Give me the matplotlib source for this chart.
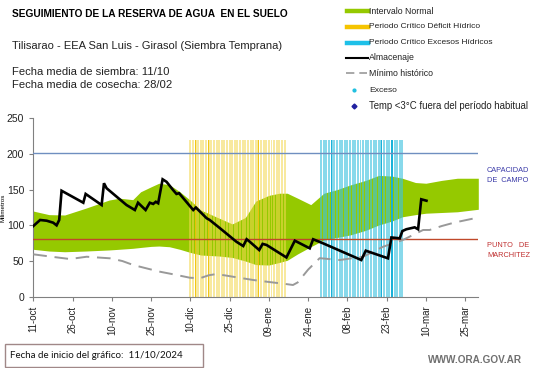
import matplotlib
matplotlib.use("Agg")
import matplotlib.pyplot as plt
import numpy as np
from matplotlib.lines import Line2D
from matplotlib.patches import Rectangle

# ---------------- data (day offsets from 11/10/2024) ----------------
tick_days = [0, 15, 30, 45, 60, 75, 90, 105, 120, 135, 150, 165]
tick_labels = ["11-oct", "26-oct", "10-nov", "25-nov", "10-dic", "25-dic",
               "09-ene", "24-ene", "08-feb", "23-feb", "10-mar", "25-mar"]

band_days = [0, 6, 12, 20, 29, 33, 38, 41, 45, 48, 52, 56, 60, 64, 71, 76, 81, 85, 90, 94,
             97, 101, 106, 111, 116, 121, 127, 132, 137, 141, 146, 150, 156, 162, 170]
band_upper = [120, 115, 114.5, 124, 135.5, 138, 136, 147, 154, 159, 157, 147, 135, 121.5, 110,
              102, 111, 134, 142, 145, 145, 138, 129, 145, 150, 156.5, 163, 170, 169, 166,
              160, 159, 163, 166, 166]
band_lower = [66.4, 64, 63, 64, 65.5, 66.5, 67.8, 69, 70.5, 71, 70, 66.4, 62, 58.4, 57, 55,
              50, 45, 44.4, 48, 51, 60, 70, 79.5, 83, 86.5, 93, 100.5, 106, 112, 115, 117,
              118, 119, 122.5]

alm_days = [0, 2.6, 5.1, 7.6, 8.9, 9.9, 10.8, 19.1, 20, 26.1, 27, 28, 35.6, 38.8, 40, 42.9,
            44.5, 45.8, 46.8, 47.7, 49.4, 50.9, 53.4, 54.7, 55.7, 61.1, 62.1, 66.2, 67.4,
            71.3, 77.6, 80.2, 81.5, 82.7, 86.3, 87.6, 89.1, 96.7, 99.9, 105.6, 106.9, 110.7,
            125.3, 127, 135.5, 136.8, 140, 141, 142.5, 145.7, 147, 148.2, 150.2]
alm_vals = [99, 107.5, 106.5, 103.7, 100, 107.5, 148.5, 131.7, 144, 128.5, 159, 152, 128.5,
            121.5, 131.7, 121.5, 131.7, 130, 133, 131, 164.5, 161, 149.5, 144, 145, 121.5, 125,
            110, 107.5, 96, 77, 71, 80.5, 77, 65.4, 74, 72.5, 55, 78.5, 67.8, 80.5, 74.8,
            51.4, 64.5, 53.8, 83, 81.8, 92, 94.5, 97.2, 94.5, 136.5, 134.5]

min_days = [0, 7, 14, 20.4, 29.3, 34, 38.2, 44, 48.4, 54, 59.8, 63.6, 67, 70, 76.3, 84, 90.3,
            96, 99.2, 101, 105, 109.4, 117, 126, 133.6, 141.2, 148.9, 151.4, 156, 161, 170]
min_vals = [59.4, 56, 52.8, 56, 53.8, 50, 44.4, 39, 35, 31, 26.6, 25.8, 30, 31.8, 28, 23.4,
            20.5, 18, 16.4, 20, 38, 54, 51.4, 56, 70, 79.5, 93.5, 93.5, 99, 104, 111]

capacidad_campo = 202
punto_marchitez = 81

deficit_start, deficit_end = 60, 96
deficit_strong = [62, 67, 86]
exceso_start, exceso_end = 110, 141
exceso_strong = [114, 133, 137]
bar_top = 220
x_end = 170

# ---------------- figure ----------------
W, H = 541, 368
fig = plt.figure(figsize=(W / 100, H / 100), dpi=100)
plt.rcParams['font.family'] = ['Liberation Sans', 'DejaVu Sans']

def fx(px):
    return px / W

def fy(py):
    return 1 - py / H

ax = fig.add_axes([fx(33.3), fy(296.7), fx(478.3) - fx(33.3), fy(118.3) - fy(296.7)])

green = '#95c900'
ax.fill_between(band_days, band_lower, band_upper, color=green, lw=0, zorder=1)

def_days = np.arange(deficit_start, deficit_end + 1)
exc_days = np.arange(exceso_start, exceso_end + 1)
ax.bar(def_days, bar_top, width=0.75, color='#f3d850', alpha=0.55, lw=0, zorder=2)
ax.bar(deficit_strong, bar_top, width=0.6, color='#f0c000', alpha=0.85, lw=0, zorder=2)
ax.bar(exc_days, bar_top, width=0.75, color='#3fc3e0', alpha=0.62, lw=0, zorder=2)
ax.bar(exceso_strong, bar_top, width=0.6, color='#15b0d8', alpha=0.95, lw=0, zorder=2)

ax.axhline(capacidad_campo, color='#6f8fc0', lw=1.0, zorder=3)
ax.axhline(punto_marchitez, color='#c0482a', lw=1.0, zorder=3)

ax.plot(min_days, min_vals, color='#999999', lw=1.4, dashes=(7, 4), zorder=4)
ax.plot(alm_days, alm_vals, color='black', lw=1.9, zorder=5, solid_joinstyle='miter')

ax.set_xlim(0, x_end)
ax.set_ylim(0, 250)
ax.set_yticks([0, 50, 100, 150, 200, 250])
ax.set_xticks(tick_days)
ax.set_xticklabels(tick_labels, rotation=90, fontsize=7, color='#222222')
ax.tick_params(axis='y', labelsize=7.5, colors='#222222', length=3, width=0.8, color='#808080')
ax.tick_params(axis='x', length=3, width=0.8, color='#808080')
for s in ['top', 'right']:
    ax.spines[s].set_visible(False)
for s in ['left', 'bottom']:
    ax.spines[s].set_color('#808080')
    ax.spines[s].set_linewidth(0.8)
ax.set_ylabel('Milimetros', fontsize=4.5, labelpad=1)

# right labels
fig.text(fx(487), fy(176), 'CAPACIDAD\nDE  CAMPO', fontsize=5.3, color='#3a3aa8',
         va='center', ha='left', linespacing=1.6)
fig.text(fx(487), fy(250.5), 'PUNTO   DE\nMARCHITEZ', fontsize=5.3, color='#c03030',
         va='center', ha='left', linespacing=1.6)

# titles
fig.text(fx(12), fy(14), 'SEGUIMIENTO DE LA RESERVA DE AGUA  EN EL SUELO', fontsize=7.3,
         fontweight='bold', va='center', ha='left')
fig.text(fx(12), fy(46), 'Tilisarao - EEA San Luis - Girasol (Siembra Temprana)', fontsize=8,
         va='center', ha='left', color='#222222')
fig.text(fx(12), fy(72), 'Fecha media de siembra: 11/10', fontsize=8.1, va='center', ha='left',
         color='#222222')
fig.text(fx(12), fy(85), 'Fecha media de cosecha: 28/02', fontsize=8.1, va='center', ha='left',
         color='#222222')

# legend (manual)
rows = [11, 27, 43, 58, 73, 90, 106]
labels = ['Intervalo Normal', 'Periodo Crítico Déficit Hídrico', 'Periodo Crítico Excesos Hídricos',
          'Almacenaje', 'Mínimo histórico', 'Exceso', 'Temp <3°C fuera del período habitual']
sizes = [6.3, 6.0, 6.0, 6.3, 6.3, 6.1, 6.9]
for yv, lab, fs in zip(rows, labels, sizes):
    fig.text(fx(369), fy(yv), lab, fontsize=fs, va='center', ha='left', color='#222222')
fig.add_artist(Line2D([fx(347), fx(368)], [fy(11)] * 2, color=green, lw=3.2))
fig.add_artist(Line2D([fx(347), fx(368)], [fy(27)] * 2, color='#f5c400', lw=3.2))
fig.add_artist(Line2D([fx(347), fx(368)], [fy(43)] * 2, color='#1ec0e8', lw=3.2))
fig.add_artist(Line2D([fx(346), fx(368)], [fy(58)] * 2, color='black', lw=1.5))
fig.add_artist(Line2D([fx(346), fx(367)], [fy(73)] * 2, color='#999999', lw=1.2, dashes=(5, 3)))
fig.add_artist(Line2D([fx(354)], [fy(90)], marker='o', ms=2, color='#20c0e0', lw=0))
fig.add_artist(Line2D([fx(354)], [fy(106)], marker='D', ms=2.5, color='#2020a0', lw=0))

# footer
fig.add_artist(Rectangle((fx(5), fy(367)), fx(203) - fx(5), fy(344) - fy(367),
                         fill=False, edgecolor='#a08888', lw=1.0))
fig.text(fx(10), fy(356), 'Fecha de inicio del gráfico:  11/10/2024', fontsize=7,
         family=['Lato', 'DejaVu Sans'], va='center', ha='left', color='#111111')
fig.text(fx(522), fy(360), 'WWW.ORA.GOV.AR', fontsize=7.2, fontweight='bold', color='#707070',
         va='center', ha='right')

fig.savefig('out.png', dpi=100)
